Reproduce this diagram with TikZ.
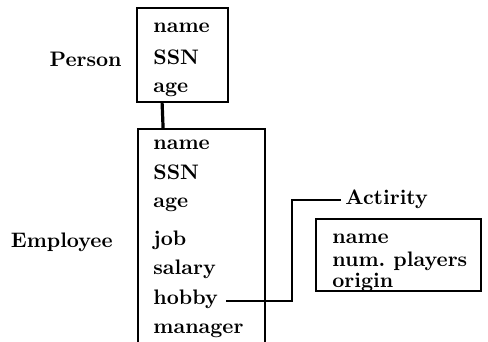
\documentclass[tikz,border=0pt]{standalone}
\usetikzlibrary{positioning}
\begin{document}
\begin{tikzpicture}[x=0.5pt,y=-0.5pt,
  every node/.style={font=\fontsize{10.5}{12}\selectfont\bfseries},
  field/.style={anchor=base west, inner sep=0pt},
  entname/.style={anchor=base east, inner sep=0pt},
  frame/.style={draw, line width=0.9pt, inner sep=0pt}]
\useasboundingbox (0,0) rectangle (488,342);
% Person
\node[frame, minimum width=45.5pt, minimum height=47pt] (personbox) at (182.5,55) {};
\node[entname] (person) at (122,67) {Person};
\node[field] (pname) at (153,33) {name};
\node[field] (pssn) at (153,65) {SSN};
\node[field] (page) at (153,93) {age};
% Employee (box runs off the bottom)
\node[frame, minimum width=63.5pt, minimum height=115.5pt] (empbox) at (201.5,244.5) {};
\node[entname] (employee) at (113,248) {Employee};
\node[field] (ename) at (153,150) {name};
\node[field] (essn) at (153,180) {SSN};
\node[field] (eage) at (153,208) {age};
\node[field] (ejob) at (153,246) {job};
\node[field] (esalary) at (153,275) {salary};
\node[field] (hobby) at (153,305) {hobby};
\node[field] (manager) at (153,334) {manager};
% Activity
\node[frame, minimum width=82.5pt, minimum height=36pt] (actbox) at (398.5,255) {};
\node[field] (actlabel) at (345,205) {Actirity};
\node[field] (aname) at (332,243) {name};
\node[field] (aplayers) at (332,266) {num.\ players};
\node[field] (aorigin) at (332,287) {origin};
% links
\draw[line width=1.6pt] ([xshift=13pt]personbox.south west) -- ([xshift=13pt]empbox.north west);
\draw[line width=0.9pt] ([xshift=4pt]hobby.mid east) -- ++(66,0) |- ([xshift=-2pt]actlabel.west);
\end{tikzpicture}
\end{document}
